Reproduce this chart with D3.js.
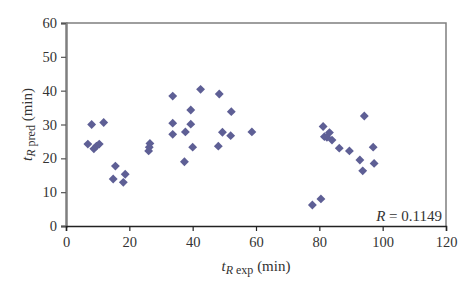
<!DOCTYPE html>
<html>
<head>
<meta charset="utf-8">
<script src="https://cdn.jsdelivr.net/npm/d3@7"></script>
<style>
  body { margin: 0; background: #fff; }
  text { font-family: "Liberation Serif", "DejaVu Serif", serif; fill: #333; }
</style>
</head>
<body>
<div id="chart"></div>
<script>
// experimental retention time (min)
var tExp = [8.1, 11.9, 6.9, 8.8, 9.6, 10.5, 15.6, 14.9, 18.7, 18.1,
            26.5, 26.3, 26.1, 33.7, 33.7, 33.7, 39.4, 39.4, 37.7, 40.0,
            37.4, 42.5, 48.4, 52.2, 49.4, 52.0, 58.7, 48.1,
            94.2, 81.2, 81.6, 83.2, 84.0, 82.4, 86.3, 89.5, 97.0, 92.8,
            97.3, 93.7, 80.5, 77.8];
// predicted retention time (min)
var tPred = [30.0, 30.6, 24.2, 22.8, 23.6, 24.2, 17.7, 13.9, 15.3, 12.9,
             24.4, 23.3, 22.2, 38.4, 30.4, 27.1, 34.3, 30.1, 27.8, 23.3,
             19.0, 40.4, 39.0, 33.8, 27.7, 26.7, 27.8, 23.6,
             32.5, 29.4, 26.4, 27.6, 25.4, 26.2, 23.0, 22.2, 23.3, 19.5,
             18.5, 16.3, 8.0, 6.2];
var xTicks = [0, 20, 40, 60, 80, 100, 120];
var yTicks = [0, 10, 20, 30, 40, 50, 60];
var rLabel = "0.1149";

var margin = {top: 23, right: 24, bottom: 57, left: 66},
    width = 470 - margin.left - margin.right,
    height = 283 - margin.top - margin.bottom;

var svg = d3.select("#chart").append("svg")
    .attr("width", 470)
    .attr("height", 283)
  .append("g")
    .attr("transform", "translate(" + margin.left + "," + margin.top + ")");

var x = d3.scaleLinear().domain([0, 120]).range([0, width]);
var y = d3.scaleLinear().domain([0, 60]).range([height, 0]);

// frame (top + right)
svg.append("path")
  .attr("d", "M0,0H" + width + "V" + height)
  .attr("fill", "none")
  .attr("stroke", "#7f7f7f")
  .attr("stroke-width", 1.5);

var yAxis = svg.append("g")
  .call(d3.axisLeft(y).tickValues(yTicks).tickSize(5).tickPadding(4));
yAxis.select(".domain").attr("stroke", "#7f7f7f").attr("stroke-width", 2.5);
yAxis.selectAll(".tick line").attr("stroke", "#555").attr("stroke-width", 1.2);
yAxis.selectAll(".tick text").style("font-size", "14.5px").attr("fill", "#333");

var xAxis = svg.append("g")
  .attr("transform", "translate(0," + height + ")")
  .call(d3.axisBottom(x).tickValues(xTicks).tickSize(5).tickPadding(6));
xAxis.select(".domain").attr("stroke", "#222").attr("stroke-width", 1.5);
xAxis.selectAll(".tick line").attr("stroke", "#222").attr("stroke-width", 1.2);
xAxis.selectAll(".tick text").style("font-size", "14.5px").attr("fill", "#333");

// points (diamonds)
var diamond = d3.symbol().type(d3.symbolDiamond2).size(50);
svg.selectAll(".pt")
  .data(tExp.map(function(d, i) { return [d, tPred[i]]; }))
  .enter().append("path")
    .attr("class", "pt")
    .attr("d", diamond)
    .attr("transform", function(d) {
      return "translate(" + x(d[0]) + "," + y(d[1]) + ")";
    })
    .attr("fill", "#5e5f95");

// x label
var xl = svg.append("text")
  .attr("x", width / 2)
  .attr("y", height + 45)
  .attr("text-anchor", "middle")
  .style("font-size", "15px");
xl.append("tspan").style("font-style", "italic").text("t");
xl.append("tspan").style("font-style", "italic").style("font-size", "12px").attr("dy", 3).text("R");
xl.append("tspan").style("font-size", "12px").text(" exp");
xl.append("tspan").attr("dy", -3).text(" (min)");

// y label
var yl = svg.append("text")
  .attr("transform", "translate(-34," + (height / 2) + ") rotate(-90)")
  .attr("text-anchor", "middle")
  .style("font-size", "15px");
yl.append("tspan").style("font-style", "italic").text("t");
yl.append("tspan").style("font-style", "italic").style("font-size", "12px").attr("dy", 3).text("R");
yl.append("tspan").style("font-size", "12px").text(" pred");
yl.append("tspan").attr("dy", -3).text(" (min)");

// correlation
var rt = svg.append("text")
  .attr("x", width - 4)
  .attr("y", height - 5)
  .attr("text-anchor", "end")
  .style("font-size", "15px");
rt.append("tspan").style("font-style", "italic").text("R");
rt.append("tspan").text(" = " + rLabel);
</script>
</body>
</html>
